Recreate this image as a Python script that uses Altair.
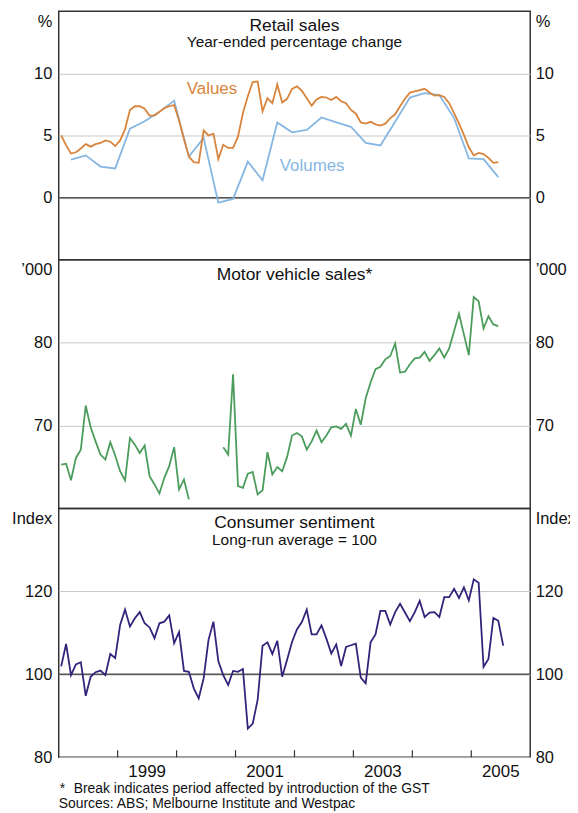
import altair as alt
import pandas as pd

FONT = "Liberation Sans"
ORANGE = "#d8843c"
BLUE = "#86b6e2"
GREEN = "#4c9d5c"
PURPLE = "#35227a"
FRAME = "#333333"

# ---------------- data (monthly from Jan 1998) ----------------
retail_values = [
    5.0, 4.2, 3.55, 3.65, 3.95, 4.3, 4.1, 4.3, 4.4, 4.6,
    4.5, 4.15, 4.6, 5.5, 7.05, 7.35, 7.35, 7.15, 6.6, 6.6,
    6.9, 7.2, 7.35, 7.45, 6.2, 4.7, 3.3, 2.85, 2.8, 5.4,
    5.0, 5.15, 3.1, 4.25, 4.0, 4.0, 4.9, 6.8, 8.15, 9.3,
    9.35, 6.95, 8.0, 7.6, 9.1, 7.65, 7.95, 8.75, 8.95, 8.6,
    8.0, 7.4, 7.9, 8.1, 8.05, 7.85, 8.1, 7.75, 7.6, 7.05,
    6.75, 6.05, 5.95, 6.1, 5.9, 5.8, 5.95, 6.4, 6.7, 7.35,
    7.95, 8.45, 8.55, 8.65, 8.75, 8.45, 8.2, 8.25, 8.1, 7.6,
    6.8, 5.95, 5.05, 4.05, 3.4, 3.6, 3.5, 3.2, 2.8, 2.85,
]
# quarterly (Mar, Jun, Sep, Dec) from Mar 1998
retail_volumes = [
    3.05, 3.4, 2.5, 2.35, 5.55, 6.15, 6.9, 7.8, 3.3, 4.8,
    -0.4, -0.1, 2.9, 1.4, 6.05, 5.25, 5.45, 6.45, 6.05, 5.7,
    4.4, 4.2, 6.1, 8.05, 8.4, 8.25, 6.4, 3.15, 3.1, 1.65,
]
motor_vehicles = [
    65.3, 65.4, 63.4, 66.1, 67.1, 72.4, 69.8, 68.1, 66.5, 65.9,
    68.0, 66.4, 64.5, 63.4, 68.5, 67.7, 66.7, 67.6, 63.9, 62.9,
    61.8, 63.7, 65.1, 67.4, 62.3, 63.5, 61.1, None, None, None,
    None, None, None, 67.4, 66.5, 76.2, 62.7, 62.5, 64.2, 64.4,
    61.7, 62.2, 66.8, 64.1, 65.0, 64.5, 66.2, 68.8, 69.1, 68.7,
    67.1, 68.1, 69.4, 68.0, 68.8, 69.8, 69.9, 69.6, 70.2, 68.8,
    72.0, 70.1, 73.3, 75.2, 76.8, 77.1, 78.0, 78.4, 79.9, 76.4,
    76.5, 77.4, 78.1, 78.2, 78.9, 77.8, 78.5, 79.3, 78.2, 79.3,
    81.4, 83.5, 81.0, 78.5, 85.5, 85.0, 81.7, 83.2, 82.2, 82.0,
]
consumer_sentiment = [
    101.9, 107.3, 99.8, 102.4, 102.9, 94.8, 99.4, 100.5, 100.9, 99.8,
    104.9, 103.9, 111.9, 115.6, 111.5, 113.5, 115.0, 112.3, 111.3, 108.7,
    112.3, 112.7, 114.2, 107.5, 110.2, 100.8, 100.6, 96.6, 94.2, 99.0,
    108.3, 112.7, 103.1, 99.8, 97.4, 100.8, 100.6, 101.3, 86.9, 88.1,
    93.8, 106.9, 107.7, 104.9, 108.1, 99.4, 103.5, 107.8, 110.8, 112.6,
    115.6, 109.6, 109.6, 111.8, 108.6, 105.0, 107.2, 102.0, 106.6, 107.0,
    107.4, 99.2, 97.8, 107.7, 109.6, 115.3, 115.3, 112.0, 115.0, 117.0,
    114.9, 112.8, 115.0, 117.7, 113.8, 114.9, 115.0, 113.8, 118.6, 118.6,
    120.6, 118.4, 121.0, 117.8, 122.9, 122.1, 101.8, 103.7, 113.6, 112.9,
    106.9,
]
year_ticks = [1999, 2000, 2001, 2002, 2003, 2004, 2005]
year_labels = [1999, 2001, 2003, 2005]
footnote = "Break indicates period affected by introduction of the GST"
sources = "Sources: ABS; Melbourne Institute and Westpac"

months = pd.date_range("1998-01-01", periods=91, freq="MS")


def dec(d):
    return d.year + (d.month - 0.5) / 12


t_all = [dec(d) for d in months]

df_val = pd.DataFrame({"t": t_all[:90], "v": retail_values})
df_vol = pd.DataFrame({"t": [t_all[i] for i in range(2, 90, 3)], "v": retail_volumes})
df_mv = pd.DataFrame({"t": t_all[:90], "v": motor_vehicles})
df_mv["seg"] = (df_mv.index >= 27).astype(int)
df_mv = df_mv.dropna()
df_cs = pd.DataFrame({"t": t_all[:91], "v": consumer_sentiment})
df_years = pd.DataFrame({"t": [y + 0.5 for y in year_labels],
                         "s": [str(y) for y in year_labels]})

W, H = 474, 250
XS = alt.Scale(domain=[1998, 2006], nice=False, zero=False)
LBL = 16.5


def ax_left(vals, unit):
    return alt.Axis(orient="left", values=vals, grid=True, gridColor="#c8c8c8",
                    gridWidth=1, ticks=False, domain=False, labelPadding=7,
                    labelFontSize=LBL, labelFont=FONT, labelColor="#111",
                    title=unit, titleAngle=0, titleAlign="right",
                    titleBaseline="middle", titleX=-7, titleY=10,
                    titleFontSize=LBL, titleFont=FONT, titleFontWeight="normal",
                    titleColor="#111")


def ax_right(vals, unit):
    return alt.Axis(orient="right", values=vals, grid=False, ticks=False,
                    domain=False, labelPadding=5, labelFontSize=LBL,
                    labelFont=FONT, labelColor="#111", title=unit, titleAngle=0,
                    titleAlign="left", titleBaseline="middle", titleX=5,
                    titleY=10, titleFontSize=LBL, titleFont=FONT,
                    titleFontWeight="normal", titleColor="#111")


def text_layer(s, x, y, size, align="center"):
    return alt.Chart(pd.DataFrame({"s": [s]})).mark_text(
        font=FONT, fontSize=size, align=align, baseline="middle", color="#111"
    ).encode(x=alt.value(x), y=alt.value(y), text="s:N")


def line_with_axes(df, color, ys, vals, unit, detail=None):
    enc = dict(x=alt.X("t:Q", scale=XS, axis=None),
               y=alt.Y("v:Q", scale=ys, axis=ax_left(vals, unit)))
    if detail:
        enc["detail"] = detail
    main = alt.Chart(df).mark_line(color=color, strokeWidth=1.8).encode(**enc)
    ghost = alt.Chart(df).mark_line(opacity=0).encode(
        x=alt.X("t:Q", scale=XS, axis=None),
        y=alt.Y("v:Q", scale=ys, axis=ax_right(vals, unit)))
    return main, ghost


# ---------------- top: retail sales ----------------
ys1 = alt.Scale(domain=[-5, 15], nice=False, zero=False)
zero1 = alt.Chart(pd.DataFrame({"v": [0]})).mark_rule(color="#555", strokeWidth=1.5).encode(
    y=alt.Y("v:Q", scale=ys1, axis=None))
vol = alt.Chart(df_vol).mark_line(color=BLUE, strokeWidth=1.8).encode(
    x=alt.X("t:Q", scale=XS, axis=None), y=alt.Y("v:Q", scale=ys1, axis=None))
val_main, val_ghost = line_with_axes(df_val, ORANGE, ys1, [0, 5, 10], "%")
series_lbl = pd.DataFrame({"t": [2000.6, 2002.3], "v": [8.72, 2.56],
                           "s": ["Values", "Volumes"], "c": [ORANGE, BLUE]})
lbls = alt.Chart(series_lbl).mark_text(font=FONT, fontSize=17, align="center",
                                        baseline="middle").encode(
    x=alt.X("t:Q", scale=XS, axis=None), y=alt.Y("v:Q", scale=ys1, axis=None),
    text="s:N", color=alt.Color("c:N", scale=None))
top = alt.layer(zero1, vol, val_main, val_ghost, lbls,
                text_layer("Retail sales", W / 2, 14.5, 17.5),
                text_layer("Year-ended percentage change", W / 2, 31.5, 15.5)
                ).resolve_axis(y="independent").properties(width=W, height=H)

# ---------------- middle: motor vehicle sales ----------------
ys2 = alt.Scale(domain=[60, 90], nice=False, zero=False)
mv_main, mv_ghost = line_with_axes(df_mv, GREEN, ys2, [70, 80], "\u2019000",
                                   detail="seg:N")
mid = alt.layer(mv_main, mv_ghost, text_layer("Motor vehicle sales*", W / 2, 15, 17.5)
                ).resolve_axis(y="independent").properties(width=W, height=H)

# ---------------- bottom: consumer sentiment ----------------
ys3 = alt.Scale(domain=[80, 140], nice=False, zero=False)
hundred = alt.Chart(pd.DataFrame({"v": [100]})).mark_rule(color="#555", strokeWidth=1.5).encode(
    y=alt.Y("v:Q", scale=ys3, axis=None))
cs_main, cs_ghost = line_with_axes(df_cs, PURPLE, ys3, [80, 100, 120], "Index")
ticks = alt.Chart(pd.DataFrame({"yr": year_ticks})).mark_rule(color=FRAME, strokeWidth=1.2).encode(
    x=alt.X("yr:Q", scale=XS, axis=None), y=alt.value(H), y2=alt.value(H - 7))
xlabels = alt.Chart(df_years).mark_text(font=FONT, fontSize=17, align="center",
                                         baseline="middle", color="#111").encode(
    x=alt.X("t:Q", scale=XS, axis=None), y=alt.value(H + 15), text="s:N")
bot = alt.layer(hundred, ticks, cs_main, cs_ghost, xlabels,
                text_layer("*", 1, H + 32, 14, "left"),
                text_layer(footnote, 15, H + 32, 14, "left"),
                text_layer(sources, 0, H + 47.5, 14, "left"),
                text_layer("Consumer sentiment", W / 2, 14.5, 17.5),
                text_layer("Long-run average = 100", W / 2, 31.5, 15.5)
                ).resolve_axis(y="independent").properties(width=W, height=H)

chart = alt.vconcat(top, mid, bot, spacing=0, bounds="flush",
                    padding={"left": 2, "top": 0, "right": -7, "bottom": 0}
                    ).configure_view(stroke=FRAME, strokeWidth=1.5)

chart.save("out.html", embed_options={"renderer": "svg", "actions": False})
